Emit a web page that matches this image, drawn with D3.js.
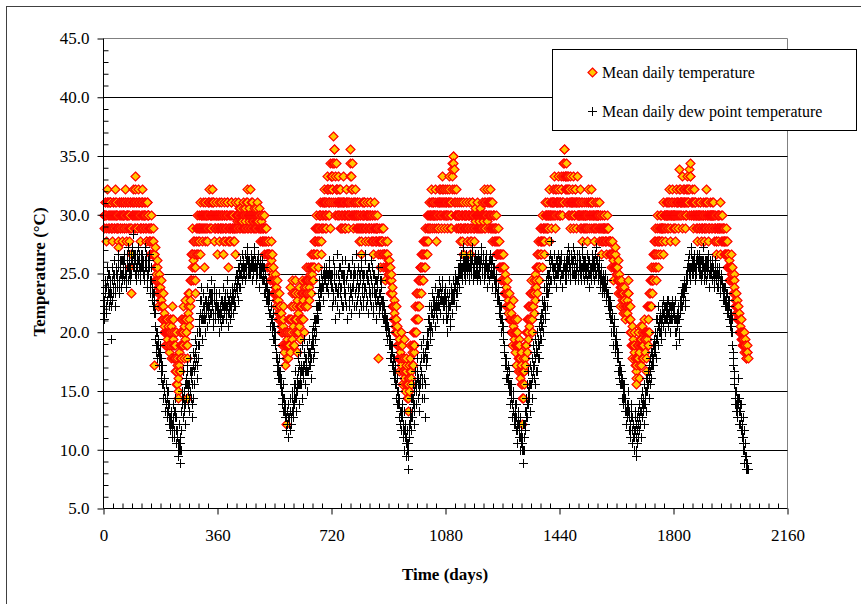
<!DOCTYPE html>
<html>
<head>
<meta charset="utf-8">
<script src="https://cdn.jsdelivr.net/npm/d3@7"></script>
<style>
  html, body { margin: 0; padding: 0; background: #fff; }
  svg { display: block; }
  text { font-family: "Liberation Serif", "Times New Roman", serif; fill: #000; }
</style>
</head>
<body>
<svg id="chart" width="861" height="604"></svg>
<script>
// daily values, in whole degrees F (converted to deg C for plotting).
// each 360-day block is split in two lists: even days and odd days.
const chunkStart = [0, 360, 720, 1080, 1440, 1800];

// mean daily temperature, even days
const tempF1 = [86,84,88,86,82,88,90,86,84,88, 86,88,84,82,86,88,86,84,90,86, 88,84,86,81,86,88,84,86,88,82,
  86,88,84,86,90,86,82,88,84,86, 78,86,88,74,84,86,88,90,84,86, 92,88,86,84,90,86,88,84,82,86,
  88,90,86,84,86,88,84,82,86,88, 84,86,82,84,80,86,82,80,84,63, 80,78,81,77,76,79,72,77,75,74,
  76,73,72,70,74,71,69,68,70,66, 68,67,69,65,68,70,66,69,72,67, 70,64,66,62,68,60,63,59,58,65,
  62,66,70,64,68,72,66,69,73,67, 70,68,58,74,71,69,76,73,80,78, 84,79,76,82,78,74,84,80,86,82,
  84,86,80,88,84,82,86,88,84,78, 86,88,84,82,86,88,90,84,86,88, 84,90,86,88,82,86,84,88,86,80];
const tempF2 = [86,84,88,82,86,84,88,86,80,84, 88,86,82,84,86,88,84,78,86,82, 84,86,88,84,82,86,84,80,88,86,
  86,84,88,86,85,84,87,86,84,85, 86,88,84,85,87,86,90,84,86,85, 87,84,90,86,85,88,84,86,87,85,
  84,86,88,85,84,87,86,82,85,84, 86,82,84,80,86,82,80,84,78,80, 82,78,80,76,79,82,77,78,74,76,
  77,74,75,72,76,73,70,74,72,70, 68,71,66,69,72,65,68,63,54,67, 66,70,64,68,75,65,72,67,76,69,
  74,66,70,76,68,73,65,71,75,69, 72,67,74,70,76,73,68,75,72,78, 74,76,72,78,75,73,77,80,74,78,
  76,80,82,78,84,80,86,82,78,84, 86,82,88,84,80,86,88,84,90,86, 88,84,86,92,88,90,86,84,94,88];
const tempF3 = [90,94,88,98,96,92,86,94,88,90, 86,92,88,84,90,86,88,84,92,86, 88,86,84,90,88,86,84,88,86,96,
  92,88,86,94,84,88,86,90,84,86, 88,84,86,82,88,86,84,80,86,88, 84,86,88,82,86,84,88,86,82,84,
  86,88,82,84,86,80,84,88,82,86, 84,82,86,80,64,84,82,78,84,80, 82,84,78,80,82,76,80,78,82,77,
  79,76,78,74,77,72,75,70,73,71, 70,68,72,66,69,64,67,62,65,68, 63,66,60,64,61,67,59,62,64,58,
  61,56,63,59,66,62,60,65,68,63, 68,66,70,74,68,72,76,70,74,78, 76,80,74,78,82,76,80,84,78,82,
  80,84,86,82,88,84,86,90,84,88, 86,88,84,90,86,82,88,86,84,90, 88,86,90,84,88,92,86,88,84,90];
const tempF4 = [86,88,84,90,86,88,92,86,84,88, 92,94,95,93,88,86,90,84,88,86, 84,88,86,82,88,84,86,80,88,84,
  86,84,88,86,82,84,86,88,84,80, 84,86,88,84,86,82,85,87,84,86, 88,84,86,85,84,87,86,84,88,85,
  90,86,84,88,86,85,90,84,86,88, 84,90,86,82,88,84,86,82,84,80, 86,82,80,84,78,82,80,76,80,78,
  80,76,78,74,77,72,75,76,73,71, 74,70,72,68,71,66,69,73,67,70, 65,68,63,70,66,62,67,64,61,65,
  54,62,58,64,60,66,63,68,65,70, 67,72,69,74,70,76,72,68,74,71, 76,73,77,75,80,74,82,78,76,84,
  80,84,78,86,82,84,80,88,84,86, 84,88,86,82,90,86,84,88,86,90, 88,86,92,84,88,90,86,92,88,86];
const tempF5 = [88,86,90,92,86,88,94,96,90,92, 88,94,90,86,92,88,84,92,86,90, 88,84,92,86,88,90,84,92,86,88,
  86,88,84,90,86,82,88,86,84,88, 84,86,88,82,86,90,84,86,88,84, 90,86,88,84,86,82,88,84,86,88,
  86,84,88,82,86,84,80,86,84,82, 84,86,82,80,84,86,82,84,80,82, 82,80,78,82,79,76,80,78,81,77,
  78,76,79,74,77,75,72,76,73,75, 74,71,75,72,70,74,73,71,76,72, 70,68,72,66,69,64,67,65,68,63,
  62,60,66,64,68,61,65,69,63,67, 66,69,64,67,70,65,68,62,72,66, 70,74,68,76,72,78,74,80,76,82,
  78,84,76,80,86,82,78,84,80,86, 82,86,84,80,88,84,86,82,88,84, 86,88,84,90,86,82,88,86,90,84];
const tempF6 = [84,88,86,82,90,86,88,84,93,86, 90,86,88,84,92,86,88,90,84,88, 86,92,88,90,86,93,94,88,86,90,
  88,84,86,90,88,84,86,82,88,86, 84,86,88,82,86,84,88,86,82,84, 86,90,84,88,86,82,84,88,86,84,
  88,84,86,88,82,86,84,80,86,84, 82,86,84,88,80,84,86,82,84,80, 84,82,80,84,78,82,80,76,79,78,
  77,80,76,78,74,77,75,72,74,71, 73,70,72,68,71,69,67,70,66,68, 67,65,68,66,65,64,66,64];

// mean daily temperature, odd days
const tempOddF1 = [86,86,88,84,86,88,88,84,86,88, 88,86,84,84,88,86,84,88,86,84, 86,84,82,84,88,86,84,88,84,86,
  88,86,84,88,88,84,86,86,88,84, 82,88,84,80,86,88,86,88,86,84, 90,88,84,86,88,88,86,84,84,88,
  88,86,84,86,88,86,82,84,88,86, 86,84,82,82,84,84,80,82,80,80, 80,76,78,76,78,75,74,76,73,75,
  74,72,70,72,70,68,70,66,68,68, 70,66,68,66,70,68,64,68,70,64, 66,68,64,66,62,64,60,61,62,63,
  64,68,66,66,70,68,64,70,70,66, 68,64,66,72,70,74,72,76,76,80, 80,82,78,80,76,80,82,84,84,80,
  82,84,84,86,86,84,84,86,86,82, 84,86,86,84,88,86,88,86,84,86, 86,88,88,86,84,84,86,86,84,86];
const tempOddF2 = [84,86,86,84,84,86,86,84,82,86, 86,84,84,86,88,86,82,82,84,84, 86,88,86,84,84,84,82,84,86,84,
  85,86,86,87,84,86,85,85,86,84, 87,86,86,84,86,88,88,86,84,86, 86,86,88,84,86,86,85,84,86,84,
  85,87,86,86,85,84,84,84,86,82, 84,84,82,82,84,84,82,80,80,82, 80,80,78,78,80,80,76,76,76,74,
  75,76,73,74,74,71,72,72,71,70, 69,68,68,70,68,66,66,64,66,68, 68,66,66,70,70,68,70,74,72,66,
  70,68,74,72,70,68,68,74,72,70, 70,72,72,74,74,70,72,74,76,75, 76,74,76,76,74,76,78,78,76,77,
  78,80,80,82,82,84,84,80,82,86, 84,86,86,82,84,88,86,88,88,84, 86,88,90,90,86,88,88,90,92,92];
const tempOddF3 = [92,90,94,96,94,88,90,90,86,88, 88,90,86,88,88,84,86,88,88,84, 86,84,88,88,86,88,86,86,92,94,
  90,86,90,88,86,86,88,86,86,88, 86,86,84,84,86,84,82,84,88,86, 86,88,84,84,86,86,86,84,84,86,
  88,86,84,86,82,82,86,84,84,84, 82,84,84,82,82,82,80,82,82,82, 84,80,80,80,78,78,80,80,79,78,
  78,77,76,76,74,74,72,72,72,70, 69,70,68,68,66,66,64,64,66,66, 64,62,62,62,64,62,60,63,60,60,
  58,60,61,62,64,61,63,66,66,65, 66,68,72,70,70,74,72,72,76,76, 78,78,76,80,80,78,82,82,80,80,
  82,86,84,84,86,86,88,86,86,86, 88,86,86,88,84,86,86,84,88,88, 86,88,88,86,90,90,88,86,86,88];
const tempOddF4 = [88,86,86,88,88,90,88,84,86,90, 93,95,94,90,86,88,86,86,86,84, 86,86,84,84,86,86,82,84,86,86,
  84,86,86,84,84,86,86,86,82,82, 86,88,86,86,84,84,86,86,86,84, 86,86,84,86,86,86,84,86,86,86,
  88,84,86,86,86,88,88,86,88,86, 88,88,84,84,86,86,84,84,82,82, 84,80,82,80,80,80,78,78,78,80,
  78,78,76,76,74,74,74,74,72,72, 72,72,70,70,68,68,70,70,68,68, 66,66,66,68,64,64,66,62,63,60,
  58,60,62,62,62,64,66,66,68,68, 70,70,72,72,74,74,70,72,72,74, 74,75,76,78,78,78,80,78,80,82,
  82,82,82,84,84,82,84,86,86,84, 86,86,84,86,88,86,86,88,88,88, 86,88,90,86,88,88,88,90,86,88];
const tempOddF5 = [86,88,90,88,88,92,96,94,92,90, 92,92,88,90,90,86,88,88,88,88, 86,88,88,86,90,88,88,88,86,86,
  88,86,86,88,84,86,86,84,86,86, 86,86,84,84,88,88,86,88,86,86, 88,88,86,86,84,84,86,86,86,86,
  86,86,84,84,86,82,82,84,84,84, 86,84,82,82,84,84,84,82,82,82, 80,80,80,80,78,78,78,80,78,78,
  77,78,76,76,76,74,74,75,74,74, 72,73,73,71,72,74,72,74,74,72, 70,70,68,68,66,66,66,66,64,64,
  61,63,64,66,64,63,67,66,66,64, 68,66,66,68,68,67,64,67,68,68, 72,72,72,74,76,76,76,78,80,80,
  82,80,78,82,84,80,82,82,84,84, 84,84,82,84,86,86,84,86,86,86, 88,86,86,88,84,86,86,88,86,86];
const tempOddF6 = [86,86,84,86,88,88,86,88,90,88, 88,88,86,88,90,88,88,88,86,86, 90,90,88,88,90,92,92,86,88,88,
  86,86,88,88,86,86,84,86,86,84, 86,88,86,84,84,86,86,84,84,86, 88,88,86,86,84,84,86,86,86,86,
  86,86,86,86,84,84,82,82,84,86, 84,84,86,84,82,86,84,84,82,82, 82,80,82,80,80,80,78,78,78,76,
  78,78,77,76,76,76,74,73,72,72, 72,71,70,70,70,68,68,68,67,67, 66,66,67,66,64,65,65];

// mean daily dew point temperature, even days
const dewF1 = [72,70,76,74,71,78,73,75,77,72, 74,76,67,78,73,75,79,76,72,77, 78,75,77,80,74,76,78,79,75,77,
  79,77,76,80,78,75,77,79,81,76, 78,80,76,79,77,81,78,83,79,77, 80,78,76,79,81,77,80,78,76,79,
  78,80,77,79,76,78,81,79,77,75, 79,77,80,76,74,78,75,73,72,71, 74,71,67,66,68,64,67,65,63,66,
  64,62,60,63,58,61,59,56,60,57, 58,55,59,54,57,53,56,55,52,57, 54,56,52,58,55,51,53,50,49,54,
  48,52,50,56,59,55,62,57,54,60, 58,61,63,57,60,56,64,59,62,55, 60,65,58,62,67,63,66,61,68,64,
  70,66,73,68,75,71,67,74,70,72, 68,73,71,75,69,72,74,70,73,76, 71,74,72,69,73,75,70,72,74,71];
const dewF2 = [72,70,74,68,71,73,69,72,75,70, 73,71,74,70,72,76,69,73,71,74, 70,73,72,75,71,74,73,76,72,77,
  74,76,78,73,77,79,75,78,76,80, 77,79,78,76,80,77,79,81,78,77, 79,77,78,80,76,79,77,78,81,79,
  78,76,79,77,80,78,75,79,77,78, 76,79,77,74,78,75,73,76,74,72, 73,71,74,69,72,70,68,71,67,69,
  66,68,64,65,62,63,61,64,60,62, 59,61,57,60,56,58,55,57,53,56, 54,57,52,55,53,58,54,56,59,55,
  57,60,58,62,56,61,59,64,57,63, 60,65,62,58,66,61,63,67,60,64, 62,66,59,64,67,63,65,61,66,68,
  64,67,70,65,69,72,68,71,74,70, 73,76,72,77,74,75,77,73,78,76, 77,75,78,77,74,77,79,76,77,75];
const dewF3 = [77,72,79,73,76,70,75,77,80,72, 77,74,71,78,75,73,77,79,72,76, 75,79,73,76,70,77,75,72,78,74,
  77,71,75,79,76,72,77,74,80,75, 76,73,78,71,75,77,72,79,74,77, 73,77,75,80,72,74,77,71,76,78,
  77,74,72,79,75,77,71,74,76,73, 74,70,76,73,78,71,74,72,76,73, 71,73,70,72,69,71,68,70,67,69,
  66,68,64,67,65,63,66,62,64,61, 60,63,58,61,57,59,55,58,54,56, 53,57,55,52,56,50,54,52,49,53,
  51,47,54,52,56,53,58,55,60,57, 54,59,62,57,60,64,58,61,56,63, 60,66,62,58,64,67,61,55,65,63,
  68,64,70,66,72,69,67,71,74,68, 70,73,71,75,69,72,74,70,73,76, 72,75,71,74,73,76,70,74,72,75];
const dewF4 = [70,73,68,74,71,76,72,69,75,73, 74,71,76,73,75,77,72,76,74,78, 76,78,75,79,77,80,76,78,81,77,
  79,76,78,80,77,79,78,76,80,78, 77,79,81,78,76,79,77,80,78,76, 79,77,80,78,76,79,81,77,78,80,
  78,76,79,77,80,75,78,77,79,76, 77,80,78,75,79,77,76,78,74,77, 76,74,73,75,71,73,70,72,68,70,
  67,69,65,66,63,64,61,62,60,63, 59,62,57,60,58,55,59,56,54,57, 55,53,57,51,54,56,52,55,50,53,
  52,50,54,48,52,56,53,58,55,60, 57,62,59,56,63,60,64,58,66,61, 63,67,60,65,68,62,66,69,64,70,
  67,71,69,73,68,75,72,70,74,76, 72,77,74,79,75,78,82,76,79,77, 78,76,80,77,79,75,78,80,77,79];
const dewF5 = [76,79,77,80,75,78,77,79,76,78, 78,76,80,77,81,79,76,78,80,77, 79,77,81,78,76,79,77,80,78,76,
  78,80,77,79,76,78,81,77,79,76, 77,79,78,76,80,78,75,79,77,78, 76,78,80,77,79,76,78,81,77,79,
  78,76,79,77,75,78,76,74,77,75, 76,74,77,73,75,76,72,74,71,73, 70,72,68,71,69,66,70,67,65,68,
  64,66,62,65,61,63,60,62,58,61, 59,57,60,56,58,54,57,55,59,53, 56,54,52,57,55,51,54,50,53,56,
  49,52,55,51,54,57,53,56,52,58, 55,59,57,54,60,58,56,61,59,62, 60,63,58,62,65,61,64,66,63,67,
  65,68,64,70,67,72,66,69,71,68, 70,67,72,69,73,71,68,72,70,73, 71,69,73,70,72,68,71,73,70,72];
const dewF6 = [70,72,68,73,66,71,69,72,67,70, 73,71,74,72,75,73,76,74,72,77, 75,78,76,79,77,80,76,78,81,77,
  79,77,80,78,76,79,77,80,78,79, 77,80,78,76,79,77,81,78,76,79, 78,76,79,77,80,78,75,79,77,78,
  76,79,77,78,75,77,79,76,78,75, 77,75,78,76,74,77,75,76,73,75, 74,72,75,73,71,74,72,70,73,69,
  71,68,70,66,64,62,60,58,56,59, 57,55,61,54,58,56,53,57,52,55, 50,53,48,51,47,49,48,47];

// mean daily dew point temperature, odd days
const dewOddF1 = [71,73,75,72,75,76,74,77,74,73, 75,72,74,76,74,77,77,74,75,78, 77,76,79,78,75,77,79,77,76,79,
  78,77,79,78,77,76,78,80,78,77, 79,78,77,80,79,79,80,80,78,79, 79,77,78,80,79,78,79,77,78,80,
  79,78,78,77,77,79,80,78,76,77, 78,79,78,75,76,76,74,72,74,73, 72,69,68,65,66,65,66,64,65,64,
  63,61,62,60,60,59,58,58,57,59, 56,57,56,55,55,54,54,53,54,55, 55,53,55,56,53,52,52,51,51,50,
  50,51,53,58,57,58,59,56,57,58, 60,62,60,59,58,60,62,61,58,57, 62,63,60,64,65,64,64,63,66,66,
  68,69,71,70,73,70,70,72,71,70, 70,72,73,72,71,73,72,71,74,74, 73,73,70,71,74,72,71,73,72,72];
const dewOddF2 = [71,72,71,70,72,71,70,73,72,71, 72,73,72,71,74,72,71,72,73,72, 72,71,74,73,73,72,75,74,75,75,
  75,77,76,75,78,77,77,77,78,78, 78,78,77,78,79,78,80,79,77,79, 78,78,79,78,78,78,79,80,79,78,
  77,78,78,79,79,77,77,78,78,76, 78,78,76,76,77,74,75,75,73,74, 72,73,71,71,70,69,70,69,68,67,
  67,66,65,63,64,62,62,61,61,60, 60,59,58,58,57,56,56,55,55,54, 56,55,54,54,56,55,55,58,57,56,
  58,59,60,59,58,60,62,60,60,61, 62,63,60,62,63,62,65,64,62,63, 64,62,62,65,65,64,63,64,67,66,
  66,69,68,67,70,70,70,72,72,72, 75,74,75,75,76,76,75,76,77,77, 76,77,77,75,76,78,77,77,76,77];
const dewOddF3 = [75,77,74,78,77,73,77,75,74,77, 75,78,76,74,77,75,72,77,76,74, 77,74,76,72,77,75,78,73,75,77,
  74,77,73,77,75,78,74,77,72,76, 77,75,74,77,73,76,78,75,77,72, 76,74,79,75,77,73,76,78,74,75,
  73,77,76,74,78,72,75,77,74,76, 72,75,73,77,74,72,76,73,75,71, 72,72,71,70,70,70,69,69,68,68,
  67,66,66,66,64,65,64,63,62,62, 61,60,60,59,58,57,57,56,56,55, 55,56,53,54,53,52,53,51,51,50,
  49,50,53,54,55,55,56,58,58,56, 57,60,60,59,62,61,60,59,60,61, 63,64,60,61,65,64,58,60,64,66,
  66,67,68,69,70,68,69,72,71,70, 72,72,73,72,71,73,72,72,74,74, 74,73,73,73,75,73,72,73,74,73];
const dewOddF4 = [72,71,70,72,73,74,70,72,74,74, 73,73,74,74,76,75,74,75,76,77, 77,77,77,78,78,78,77,79,79,78,
  78,77,79,79,78,78,77,78,79,77, 78,80,79,77,77,78,79,79,77,77, 78,79,79,77,78,80,79,78,79,79,
  77,78,78,79,78,77,77,78,78,77, 79,79,77,77,78,77,77,76,75,76, 75,74,74,73,72,72,71,70,69,69,
  68,67,66,64,64,63,62,61,61,62, 60,60,59,59,57,57,58,55,55,56, 54,55,54,53,55,54,53,52,51,52,
  51,52,50,50,54,54,55,56,57,58, 59,60,58,60,62,62,61,62,63,63, 65,64,62,66,65,64,67,66,67,68,
  69,70,71,70,72,73,71,72,75,74, 75,76,77,77,76,80,79,78,78,78, 77,78,78,78,77,77,79,78,78,78];
const dewOddF5 = [78,78,79,77,77,77,78,78,77,79, 77,78,79,79,80,78,77,79,79,78, 78,79,80,77,77,78,78,79,77,77,
  79,79,78,78,77,80,79,78,78,77, 78,78,77,78,79,77,77,78,78,77, 77,79,79,78,78,77,80,79,78,78,
  77,78,78,76,77,77,75,76,76,76, 75,76,75,74,76,74,73,73,72,72, 71,70,70,70,68,68,69,66,67,66,
  65,64,64,63,62,62,61,60,60,60, 58,59,58,57,56,56,56,57,56,55, 55,53,55,56,53,52,52,52,55,53,
  50,54,53,52,56,55,54,54,56,57, 57,58,56,57,59,57,59,60,61,60, 62,61,60,64,63,63,65,64,65,66,
  66,66,67,68,70,69,68,70,70,69, 68,70,71,71,72,70,70,71,72,72, 70,71,72,71,70,70,72,72,71,71];
const dewOddF6 = [71,70,70,70,68,70,71,70,68,72, 72,72,73,74,74,75,75,73,75,76, 77,77,78,78,78,78,77,80,79,78,
  78,79,79,77,78,78,79,79,78,78, 79,79,77,77,78,79,79,77,78,78, 77,78,78,79,79,77,77,78,78,77,
  78,78,77,77,76,78,77,77,77,76, 76,77,77,75,76,76,75,75,74,74, 73,73,74,72,72,73,71,72,71,70,
  70,69,68,65,63,61,59,57,57,58, 56,58,57,56,57,54,55,54,53,52, 51,50,49,49,48,48,47];

const tempEven = [tempF1, tempF2, tempF3, tempF4, tempF5, tempF6];
const tempOdd = [tempOddF1, tempOddF2, tempOddF3, tempOddF4, tempOddF5, tempOddF6];
const dewEven = [dewF1, dewF2, dewF3, dewF4, dewF5, dewF6];
const dewOdd = [dewOddF1, dewOddF2, dewOddF3, dewOddF4, dewOddF5, dewOddF6];

const xTicks = [0, 360, 720, 1080, 1440, 1800, 2160];
const yTicks = [5, 10, 15, 20, 25, 30, 35, 40, 45];

const legendLabels = ["Mean daily temperature", "Mean daily dew point temperature"];

const toC = f => (f - 32) * 5 / 9;

function toPoints(even, odd) {
  const pts = [];
  even.forEach((arr, k) => arr.forEach((f, i) => pts.push({ day: chunkStart[k] + 2 * i, c: toC(f) })));
  odd.forEach((arr, k) => arr.forEach((f, i) => pts.push({ day: chunkStart[k] + 2 * i + 1, c: toC(f) })));
  return pts.sort((a, b) => a.day - b.day);
}

const tempPts = toPoints(tempEven, tempOdd);
const dewPts = toPoints(dewEven, dewOdd);

const svg = d3.select("#chart");

// outer chart border
svg.append("rect")
  .attr("x", 6.5).attr("y", 6.5)
  .attr("width", 900).attr("height", 700)
  .attr("fill", "#fff").attr("stroke", "#404040");

const plotL = 103.5, plotR = 787.5, plotT = 38.5, plotB = 508.5;

const x = d3.scaleLinear().domain([0, 2160]).range([plotL, plotR]);
const y = d3.scaleLinear().domain([5, 45]).range([plotB, plotT]);

// plot area border (top and right, gray)
svg.append("path")
  .attr("d", `M${plotL},${plotT}H${plotR}V${plotB}`)
  .attr("fill", "none").attr("stroke", "#808080");

// gridlines
svg.append("g")
  .selectAll("line")
  .data(yTicks.filter(v => v > 5 && v < 45))
  .join("line")
  .attr("x1", plotL).attr("x2", plotR)
  .attr("y1", d => Math.round(y(d)) + 0.5).attr("y2", d => Math.round(y(d)) + 0.5)
  .attr("stroke", "#000");

// series
const diamond = "M0,-4.5L4.5,0L0,4.5L-4.5,0Z";
const plus = "M-4.5,0H4.5M0,-4.5V4.5";
const px = v => Math.round(v) + 0.5;

svg.append("g")
  .selectAll("path")
  .data(tempPts)
  .join("path")
  .attr("d", diamond)
  .attr("transform", d => `translate(${px(x(d.day))},${px(y(d.c))})`)
  .attr("fill", "#FFC800")
  .attr("stroke", "#FF0000")
  .attr("stroke-width", 1.2);

svg.append("g")
  .selectAll("path")
  .data(dewPts)
  .join("path")
  .attr("d", plus)
  .attr("transform", d => `translate(${px(x(d.day))},${px(y(d.c))})`)
  .attr("fill", "none")
  .attr("stroke", "#000")
  .attr("stroke-width", 1);

// y axis
const yAxis = svg.append("g")
  .attr("transform", `translate(${plotL},0)`)
  .call(d3.axisLeft(y).tickValues(yTicks).tickFormat(d3.format(".1f")).tickSize(6).tickPadding(8));
svg.append("g")
  .attr("transform", `translate(${plotL},0)`)
  .call(d3.axisLeft(y).tickValues(d3.range(5, 46, 1).filter(v => v % 5 !== 0)).tickSize(-5).tickFormat(""))
  .call(g => g.select(".domain").remove());

// x axis
const xAxis = svg.append("g")
  .attr("transform", `translate(0,${plotB})`)
  .call(d3.axisBottom(x).tickValues(xTicks).tickFormat(d3.format("d")).tickSize(6).tickPadding(14));
svg.append("g")
  .attr("transform", `translate(0,${plotB})`)
  .call(d3.axisBottom(x).tickValues(d3.range(0, 2161, 30).filter(v => v % 360 !== 0)).tickSize(-5).tickFormat(""))
  .call(g => g.select(".domain").remove());

svg.selectAll(".domain").attr("stroke", "#000");
svg.selectAll(".tick line").attr("stroke", "#000");
svg.selectAll(".tick text")
  .attr("font-family", "Liberation Serif, Times New Roman, serif")
  .attr("font-size", 17);
yAxis.select(".domain").attr("d", `M0,${plotT}V${plotB}`);
xAxis.select(".domain").attr("d", `M${plotL},0H${plotR}`);

// axis titles
svg.append("text")
  .attr("x", 445).attr("y", 580)
  .attr("text-anchor", "middle")
  .attr("font-size", 17).attr("font-weight", "bold")
  .text("Time (days)");

svg.append("text")
  .attr("transform", "translate(45,272) rotate(-90)")
  .attr("text-anchor", "middle")
  .attr("font-size", 17).attr("font-weight", "bold")
  .text("Temperature (°C)");

// legend
const lg = svg.append("g");
lg.append("rect")
  .attr("x", 552.5).attr("y", 49.5)
  .attr("width", 304).attr("height", 81)
  .attr("fill", "#fff").attr("stroke", "#000");
lg.append("path")
  .attr("d", diamond)
  .attr("transform", "translate(592.5,72.5)")
  .attr("fill", "#FFC800").attr("stroke", "#FF0000").attr("stroke-width", 1.2);
lg.append("path")
  .attr("d", plus)
  .attr("transform", "translate(592.5,111.5)")
  .attr("fill", "none").attr("stroke", "#000");
lg.selectAll("text.lbl")
  .data(legendLabels)
  .join("text")
  .attr("class", "lbl")
  .attr("x", 602)
  .attr("y", (d, i) => 78 + i * 39)
  .attr("font-size", 16)
  .text(d => d);
</script>
</body>
</html>
